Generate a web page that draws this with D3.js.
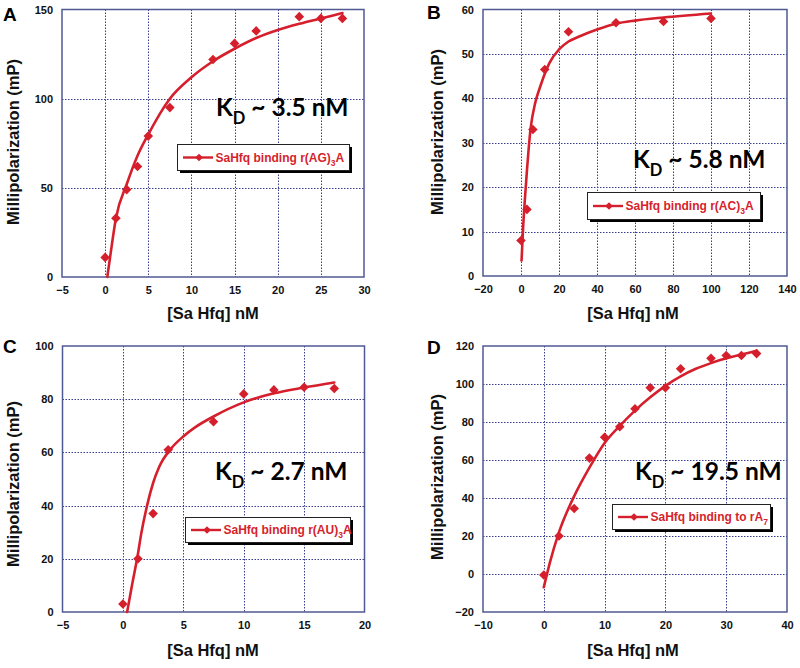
<!DOCTYPE html>
<html><head><meta charset="utf-8">
<script src="https://cdn.jsdelivr.net/npm/d3@7"></script>
<style>body{margin:0;background:#fff}svg{display:block}</style>
</head><body><svg id="c" width="800" height="668"></svg>
<script>
// ---------- data ----------
const aX = [0, 1.25, 2.5, 3.75, 5, 7.5, 12.5, 15, 17.5, 22.5, 25, 27.5];
const aY = [11, 33, 49, 62, 79, 95, 122, 131, 138, 146, 145, 145];
const aFitX = [0.25, 0.6, 1.25, 2.5, 3.75, 5, 7.5, 10, 12.5, 15, 17.5, 20, 22.5, 25, 27.5];
const aFitY = [0, 12, 33, 52, 68, 80, 100, 112, 121, 128, 134, 138.5, 142, 145, 148];

const bX = [0, 3.125, 6.25, 12.5, 25, 50, 75, 100];
const bY = [8, 15, 33, 46.5, 55, 57, 57.3, 58];
const bFitX = [0.3, 1, 2, 3, 5, 7.5, 10, 15, 20, 25, 30, 40, 50, 60, 75, 100];
const bFitY = [3.5, 10, 17, 23, 33, 39, 42.5, 48, 51, 52.8, 53.8, 55.5, 56.8, 57.5, 58.2, 59.1];

const cX = [0, 1.25, 2.5, 3.75, 7.5, 10, 12.5, 15, 17.5];
const cY = [3, 20, 37, 61, 71.5, 82, 83.5, 84.5, 84];
const cFitX = [0.35, 0.75, 1.25, 1.5, 2, 2.5, 3, 4, 5, 6, 7.5, 10, 12.5, 15, 17.5];
const cFitY = [0, 10, 22, 29, 40, 48.5, 54.5, 61.5, 66, 69.5, 73.5, 78.8, 82.2, 84.4, 86.3];

const dX = [0, 2.5, 5, 7.5, 10, 12.5, 15, 17.5, 20, 22.5, 27.5, 30, 32.5, 35];
const dY = [-0.5, 20, 34.5, 61, 72, 77.5, 87, 98, 98, 108, 113.5, 115, 115, 116];
const dFitX = [0, 1, 2.5, 5, 7.5, 10, 12.5, 15, 17.5, 20, 22.5, 25, 27.5, 30, 32.5, 35];
const dFitY = [-7, 6, 22, 41, 56, 69, 78, 86, 93, 99, 104, 108, 111, 113.5, 115.5, 117.5];

const panelLetters = ["A", "B", "C", "D"];
const kdValues = ["3.5", "5.8", "2.7", "19.5"];
const legendMain = ["SaHfq binding r(AG)", "SaHfq binding r(AC)", "SaHfq binding r(AU)", "SaHfq binding to rA"];
const legendSub = ["3", "3", "3", "7"];
const legendTail = ["A", "A", "A", ""];
const xDomains = [[-5, 30], [-20, 140], [-5, 20], [-10, 40]];
const yDomains = [[0, 150], [0, 60], [0, 100], [-20, 120]];
const xTicks = [[-5, 0, 5, 10, 15, 20, 25, 30], [-20, 0, 20, 40, 60, 80, 100, 120, 140], [-5, 0, 5, 10, 15, 20], [-10, 0, 10, 20, 30, 40]];
const yTicks = [[0, 50, 100, 150], [0, 10, 20, 30, 40, 50, 60], [0, 20, 40, 60, 80, 100], [-20, 0, 20, 40, 60, 80, 100, 120]];
const xTitle = "[Sa Hfq] nM";
const yTitle = "Millipolarization (mP)";

// ---------- layout ----------
const layout = [
  {l: 62, r: 364, t: 9.5, b: 277, ytx: 12.5, yty: 142, xtx: 213, xty: 319, lx: 3, ly: 21, kx: 216, ky: 116, leg: [177, 144, 172, 26]},
  {l: 483, r: 787, t: 9.5, b: 276, ytx: 437, yty: 132, xtx: 633, xty: 319, lx: 427, ly: 19, kx: 633, ky: 168, leg: [587, 192, 173, 27]},
  {l: 62.5, r: 364.5, t: 346, b: 612, ytx: 12.5, yty: 484, xtx: 213, xty: 656, lx: 3, ly: 353, kx: 215, ky: 480, leg: [185, 517, 165, 25]},
  {l: 483, r: 787, t: 346, b: 612, ytx: 437, yty: 477, xtx: 633, xty: 656, lx: 427, ly: 354, kx: 635, ky: 480, leg: [612, 504, 158, 25]}
];

const series = [[aX, aY, aFitX, aFitY], [bX, bY, bFitX, bFitY], [cX, cY, cFitX, cFitY], [dX, dY, dFitX, dFitY]];

const RED = "#d61f2c";
const FRAME = "#4f5a92";
const GRID = "#3a3c8e";
const svg = d3.select("#c");
const bold = "'Liberation Sans', Arial, sans-serif";

series.forEach((s, i) => {
  const L = layout[i];
  const x = d3.scaleLinear().domain(xDomains[i]).range([L.l, L.r]);
  const y = d3.scaleLinear().domain(yDomains[i]).range([L.b, L.t]);
  const g = svg.append("g");

  // gridlines
  const xt = xTicks[i], yt = yTicks[i];
  g.append("g").selectAll("line").data(xt.slice(1, -1)).join("line")
    .attr("x1", d => Math.round(x(d)) + 0.5).attr("x2", d => Math.round(x(d)) + 0.5)
    .attr("y1", L.t).attr("y2", L.b)
    .attr("stroke", GRID).attr("stroke-width", 1).attr("stroke-dasharray", "1.5,1.5");
  g.append("g").selectAll("line").data(yt.slice(1, -1)).join("line")
    .attr("y1", d => Math.round(y(d)) + 0.5).attr("y2", d => Math.round(y(d)) + 0.5)
    .attr("x1", L.l).attr("x2", L.r)
    .attr("stroke", GRID).attr("stroke-width", 1).attr("stroke-dasharray", "1.5,1.5");

  // frame
  g.append("rect").attr("x", L.l).attr("y", L.t).attr("width", L.r - L.l).attr("height", L.b - L.t)
    .attr("fill", "none").attr("stroke", FRAME).attr("stroke-width", 1.5);

  // axes (labels only)
  const ax = g.append("g").attr("transform", `translate(0,${L.b})`)
    .call(d3.axisBottom(x).tickValues(xt).tickSize(0).tickPadding(9).tickFormat(d3.format("d")));
  const ay = g.append("g").attr("transform", `translate(${L.l},0)`)
    .call(d3.axisLeft(y).tickValues(yt).tickSize(0).tickPadding(9).tickFormat(d3.format("d")));
  [ax, ay].forEach(a => {
    a.select(".domain").remove();
    a.selectAll("text").attr("font-family", bold).attr("font-weight", "bold").attr("font-size", 11).attr("fill", "#111");
  });

  // fit curve
  const fit = d3.zip(s[2], s[3]);
  g.append("path").datum(fit)
    .attr("d", d3.line().x(d => x(d[0])).y(d => y(d[1])).curve(d3.curveMonotoneX))
    .attr("fill", "none").attr("stroke", RED).attr("stroke-width", 2.6).attr("stroke-linecap", "round");

  // points
  const pts = d3.zip(s[0], s[1]);
  const diamond = d3.symbol(d3.symbolSquare, 46);
  g.append("g").selectAll("path").data(pts).join("path")
    .attr("d", diamond)
    .attr("transform", d => `translate(${x(d[0])},${y(d[1])}) rotate(45)`)
    .attr("fill", RED);

  // axis titles
  g.append("text").attr("x", L.xtx).attr("y", L.xty).attr("text-anchor", "middle")
    .attr("font-family", bold).attr("font-weight", "bold").attr("font-size", 16.5).attr("fill", "#111").text(xTitle);
  g.append("text").attr("transform", `translate(${L.ytx + 6},${L.yty}) rotate(-90)`).attr("text-anchor", "middle")
    .attr("font-family", bold).attr("font-weight", "bold").attr("font-size", 16.5).attr("fill", "#111").text(yTitle);

  // panel letter
  g.append("text").attr("x", L.lx).attr("y", L.ly)
    .attr("font-family", bold).attr("font-weight", "bold").attr("font-size", 19).attr("fill", "#000").text(panelLetters[i]);

  // KD text
  const kt = g.append("text").attr("x", L.kx).attr("y", L.ky)
    .attr("font-family", "Lato, 'Open Sans', sans-serif").attr("font-weight", "bold").attr("font-size", 24.5).attr("fill", "#000");
  kt.append("tspan").text("K");
  kt.append("tspan").attr("font-size", 16.5).attr("dy", 7.5).text("D");
  kt.append("tspan").attr("dy", -7.5).text(" ~ " + kdValues[i] + " nM");

  // legend
  const [bx, by, bw, bh] = L.leg;
  g.append("rect").attr("x", bx + 3).attr("y", by + 3).attr("width", bw).attr("height", bh).attr("fill", "#000");
  g.append("rect").attr("x", bx + 0.5).attr("y", by + 0.5).attr("width", bw).attr("height", bh)
    .attr("fill", "#fff").attr("stroke", "#222").attr("stroke-width", 1);
  const my = by + bh / 2 + 0.5;
  g.append("line").attr("x1", bx + 6).attr("x2", bx + 36).attr("y1", my).attr("y2", my)
    .attr("stroke", RED).attr("stroke-width", 2.4);
  g.append("path").attr("d", d3.symbol(d3.symbolSquare, 30))
    .attr("transform", `translate(${bx + 22},${my}) rotate(45)`).attr("fill", RED);
  const lt = g.append("text").attr("x", bx + 38.5).attr("y", my + 4.2)
    .attr("font-family", bold).attr("font-weight", "bold").attr("font-size", 12).attr("fill", RED);
  lt.append("tspan").text(legendMain[i]);
  lt.append("tspan").attr("font-size", 8.5).attr("dy", 4).text(legendSub[i]);
  if (legendTail[i]) lt.append("tspan").attr("dy", -4).text(legendTail[i]);
});
</script>
</body></html>
